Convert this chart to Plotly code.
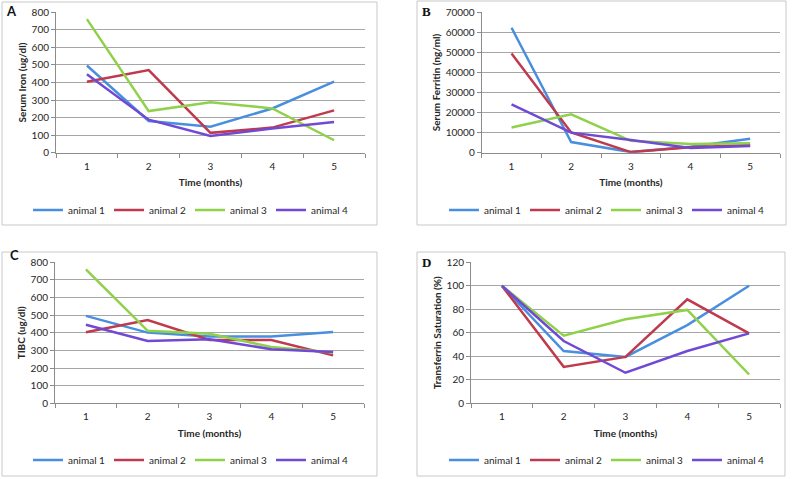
import plotly.graph_objects as go

months = [1, 2, 3, 4, 5]
animals = ["animal 1", "animal 2", "animal 3", "animal 4"]
colors = ["#4a8fdf", "#be3a4c", "#8fd14a", "#7049d4"]

serum_iron = [
    [497, 181, 148, 252, 405],
    [404, 471, 113, 143, 241],
    [761, 237, 288, 252, 71],
    [447, 188, 95, 138, 175],
]
serum_ferritin = [
    [62300, 5300, 300, 3000, 7000],
    [49500, 10100, 300, 2700, 3800],
    [12600, 19100, 5900, 4300, 4700],
    [24100, 10000, 6300, 2300, 3300],
]
tibc = [
    [496, 401, 379, 379, 404],
    [403, 472, 359, 359, 272],
    [760, 411, 395, 320, 288],
    [446, 353, 364, 307, 291],
]
tsat = [
    [100, 44.5, 39.5, 66.5, 100],
    [100, 31, 39.5, 88.5, 59.5],
    [100, 57.5, 71.5, 79.5, 24.5],
    [100, 53, 26, 44.5, 59.5],
]

panels = [
    dict(letter="A", data=serum_iron, ytitle="Serum Iron (ug/dl)", ymax=800, dtick=100,
         dom_x=[56 / 793, 365 / 793], dom_y=[1 - 152.7 / 479, 1 - 12.3 / 479],
         box=(2, 2, 377, 225), leg=(190, 210), letter_xy=(11, 11)),
    dict(letter="B", data=serum_ferritin, ytitle="Serum Ferritin (ng/ml)", ymax=70000, dtick=10000,
         dom_x=[481.7 / 793, 780 / 793], dom_y=[1 - 152.7 / 479, 1 - 12.3 / 479],
         box=(417, 1, 786, 225), leg=(606, 210), letter_xy=(426, 11)),
    dict(letter="C", data=tibc, ytitle="TIBC (ug/dl)", ymax=800, dtick=100,
         dom_x=[55 / 793, 364 / 793], dom_y=[1 - 403.3 / 479, 1 - 262.3 / 479],
         box=(2, 252, 377, 476), leg=(190, 460), letter_xy=(14, 255)),
    dict(letter="D", data=tsat, ytitle="Transferrin Saturation (%)", ymax=120, dtick=20,
         dom_x=[471 / 793, 780 / 793], dom_y=[1 - 403.3 / 479, 1 - 262.3 / 479],
         box=(417, 252, 785, 476), leg=(606, 460), letter_xy=(426, 262)),
]

W, H = 793, 479
FONT = "Lato, 'Open Sans', sans-serif"
fig = go.Figure()
layout = dict(
    width=W, height=H, margin=dict(l=0, r=0, t=0, b=0, autoexpand=False),
    paper_bgcolor="white", plot_bgcolor="white",
    font=dict(family=FONT, size=10, color="#262626"),
    shapes=[], annotations=[],
)

for i, p in enumerate(panels):
    n = "" if i == 0 else str(i + 1)
    legname = "legend" + n
    for j, name in enumerate(animals):
        fig.add_trace(go.Scatter(
            x=months, y=p["data"][j], mode="lines", name=name,
            line=dict(color=colors[j], width=2.5),
            xaxis="x" + n, yaxis="y" + n, legend=legname,
        ))
    layout["xaxis" + n] = dict(
        domain=p["dom_x"], anchor="y" + n, range=[0.5, 5.5],
        tickvals=months, ticks="", showgrid=False, zeroline=False,
        showline=True, linecolor="#8c8c8c", linewidth=1,
        tickfont=dict(size=10), automargin=False, ticklabelstandoff=4,
        minor=dict(tickvals=[0.5, 1.5, 2.5, 3.5, 4.5, 5.5], ticks="outside",
                   ticklen=4, tickcolor="#8c8c8c", showgrid=False),
        title=dict(text="<b>Time (months)</b>", font=dict(size=10), standoff=8),
        fixedrange=True,
    )
    layout["yaxis" + n] = dict(
        domain=p["dom_y"], anchor="x" + n, range=[0, p["ymax"]], dtick=p["dtick"],
        tickformat="d", automargin=False,
        showgrid=True, gridcolor="#a6a6a6", gridwidth=1, zeroline=False,
        showline=True, linecolor="#8c8c8c", linewidth=1,
        ticks="outside", ticklen=4, tickcolor="#8c8c8c",
        tickfont=dict(size=10),
        title=dict(text="<b>" + p["ytitle"] + "</b>", font=dict(size=10), standoff=3),
        fixedrange=True,
    )
    layout[legname] = dict(
        orientation="h", x=p["leg"][0] / W, y=1 - p["leg"][1] / H,
        xanchor="center", yanchor="middle", font=dict(size=10),
        bgcolor="rgba(0,0,0,0)", itemwidth=30, tracegroupgap=0,
        entrywidth=36, entrywidthmode="pixels",
    )
    x0, y0, x1, y1 = p["box"]
    layout["shapes"].append(dict(
        type="rect", xref="paper", yref="paper",
        x0=x0 / W, x1=x1 / W, y0=1 - y1 / H, y1=1 - y0 / H,
        line=dict(color="#c8c8c8", width=1), fillcolor="rgba(0,0,0,0)", layer="below",
    ))
    layout["annotations"].append(dict(
        text="<b>" + p["letter"] + "</b>", xref="paper", yref="paper",
        x=p["letter_xy"][0] / W, y=1 - p["letter_xy"][1] / H,
        xanchor="center", yanchor="middle", showarrow=False,
        font=dict(size=13, color="#111111",
                  family=("Lato, sans-serif" if p["letter"] in "AC" else "'Liberation Serif', serif")),
    ))

fig.update_layout(**layout)
fig.write_html("out.html", config={"displayModeBar": False},
               post_script="document.body.style.margin='0px';")
